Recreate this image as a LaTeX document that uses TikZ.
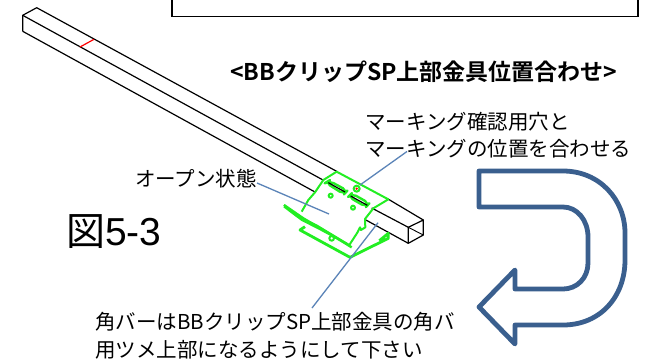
\documentclass[tikz,border=0pt]{standalone}
\usepackage{fontspec}
\setmainfont{Noto Sans CJK JP}
\newfontfamily\boldjp[BoldFont={Noto Sans CJK JP Bold}]{Noto Sans CJK JP}
\newfontfamily\latinfig{Liberation Sans}
\definecolor{leader}{HTML}{5B84B8}
\definecolor{arrowblue}{HTML}{3A5F8E}
\definecolor{clip}{HTML}{22EE22}
\tikzset{
  bar/.style={draw=black,line width=1.2pt},
  leaderline/.style={draw=leader,line width=1.3pt},
  clipline/.style={draw=clip,line width=2pt,line join=round},
  label/.style={inner sep=0pt,anchor=west,font=\fontsize{20.5}{22}\selectfont,text=black},
  zoomed/.style={shift={(260pt,-150pt)},x=0.3333pt,y=-0.3333pt}
}
\begin{document}
\begin{tikzpicture}[x=1pt,y=-1pt]
\useasboundingbox (0,0) rectangle (647,360);
\fill[white] (0,0) rectangle (647,360);
% top frame
\draw[line width=1.2pt] (172,-2) -- (172,16.5) -- (638,16.5) -- (638,-2);
% bar
\draw[bar,line join=round] (22.7,31.3) -- (22.7,15.3) -- (36.7,7.7) -- (337,171.5);
\draw[bar] (22.7,15.3) -- (323,180);
\draw[bar] (22.7,31.3) -- (315,192);
\draw[bar] (365,219.5) -- (408.3,243.3);
\draw[bar] (371.7,208) -- (408.3,227.3);
\draw[bar] (388,199) -- (423.3,220);
\draw[bar,line join=round] (408.3,227.3) -- (423.3,220) -- (423.3,235) -- (408.3,243.3) -- cycle;
\draw[bar,line width=0.9pt] (408.3,227.3) -- (423.3,235);
\draw[red,line width=1.2pt] (80,47) -- (94,39.3);
% clip
\begin{scope}[zoomed]
\draw[clipline] (125,185) -- (145,150) -- (165,127) -- (190,90) -- (230,65) -- (385,148) -- (340,175) -- (315,207) -- (316,232) -- (303,240) -- (300,232) -- (292,248) -- (268,285);
\draw[clipline,line width=2.4pt,rounded corners=5pt] (197,98) -- (207,92) -- (262,122) -- (252,133) -- cycle;
\draw[clipline,line width=2.4pt,rounded corners=5pt] (265,140) -- (275,130) -- (328,160) -- (318,171) -- cycle;
\draw[black,line width=1.2pt] (205,98) -- (255,126);
\draw[black,line width=1.2pt] (272,138) -- (322,166);
\draw[clipline] (212,137) circle[radius=6];
\draw[clipline] (279,173) circle[radius=6];
\draw[clipline] (290,116) circle[radius=9];
\fill[red] (290,116) circle[radius=4];
\draw[clipline,line width=2.4pt] (72,165) -- (130,205) -- (215,255) -- (275,292);
\draw[clipline,line width=1.8pt] (72,170) -- (125,210) -- (180,238) -- (262,282);
\draw[clipline,line width=1.8pt] (72,165) -- (110,198) -- (170,226) -- (268,285);
\draw[clipline] (215,265) circle[radius=7];
\draw[clipline,line width=2.8pt] (135,230) -- (120,240) -- (270,322) -- (385,265) -- (385,250) -- (358,272);
\end{scope}
% leaders
\coordinate (a1) at (329,214);
\coordinate (a2) at (360,185);
\coordinate (a3) at (378,222.7);
\node[label] (open) at (135,179) {オープン状態};
\node[label] (mark1) at (365,122) {マーキング確認用穴と};
\node[label] (mark2) at (365,149) {マーキングの位置を合わせる};
\node[label] (note1) at (95,322) {角バーはBBクリップSP上部金具の角バ};
\node[label] (note2) at (95,350) {用ツメ上部になるようにして下さい};
\node[inner sep=0pt,anchor=west,font=\boldjp\bfseries\fontsize{23}{24}\selectfont] (title) at (230,72) {<BBクリップSP上部金具位置合わせ>};
\node[inner sep=0pt,anchor=west,font=\fontsize{39}{40}\selectfont] (fig) at (66,232) {図{\latinfig 5-3}};
\coordinate (o1) at (257,183);
\coordinate (m1) at (407,151.5);
\coordinate (n1) at (312,308);
\draw[leaderline] (o1) -- (a1);
\draw[leaderline] (m1) -- (a2);
\draw[leaderline] (n1) -- (a3);
% big arrow
\draw[arrowblue,line width=4.8pt,line join=round,fill=white]
 (479,171) -- (563,171) .. controls (600,171) and (625,200) .. (625,233) -- (625,260)
 .. controls (625,297) and (600,325) .. (563,325) -- (515,325) -- (515,344) -- (479,307)
 -- (515,270) -- (515,289) -- (563,289) .. controls (577,289) and (588,278) .. (588,263)
 -- (588,237) .. controls (588,220) and (577,207) .. (563,207) -- (479,207) -- cycle;
\end{tikzpicture}
\end{document}
